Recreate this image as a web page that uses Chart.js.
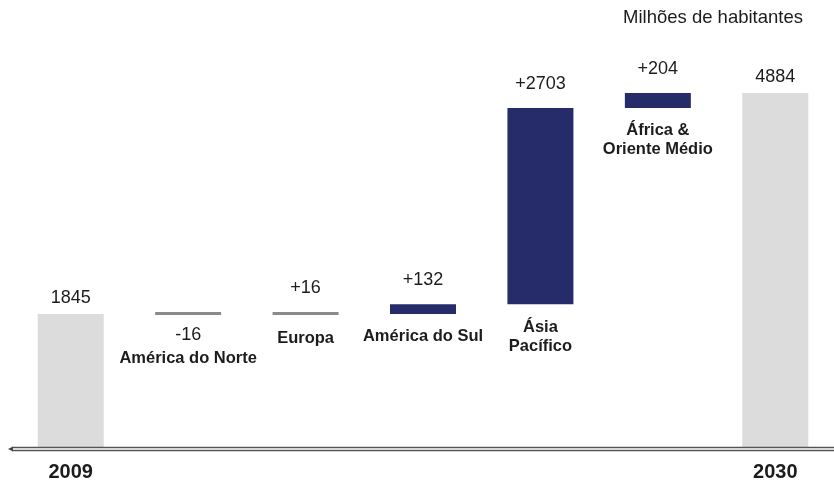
<!DOCTYPE html>
<html>
<head>
<meta charset="utf-8">
<script src="https://cdn.jsdelivr.net/npm/chart.js@4"></script>
<style>
  html, body { margin: 0; padding: 0; background: #fff; }
  #wrap { position: relative; width: 834px; height: 481px; }
</style>
</head>
<body>
<div id="wrap"><canvas id="waterfall"></canvas></div>
<script>
// Population change by region, millions of inhabitants
const categories = ['2009', 'América do Norte', 'Europa', 'América do Sul', 'Ásia Pacífico', 'África & Oriente Médio', '2030'];
const nameLines = [null, ['América do Norte'], ['Europa'], ['América do Sul'], ['Ásia', 'Pacífico'], ['África &', 'Oriente Médio'], null];
const values = [1845, -16, 16, 132, 2703, 204, 4884];
const isTotal = [true, false, false, false, false, false, true];
const valueLabels = ['1845', '-16', '+16', '+132', '+2703', '+204', '4884'];
const unitLabel = 'Milhões de habitantes';

const TOTAL_COLOR = '#dcdcdc';
const UP_COLOR = '#262c6a';
const FLAT_COLOR = '#8a8a8a';

// build floating bars from running total
let running = 0;
const ranges = values.map(function (v, i) {
    if (isTotal[i]) { running = v; return [0, v]; }
    const start = running;
    running += v;
    return [start, running];
});
const colors = values.map(function (v, i) {
    if (isTotal[i]) return TOTAL_COLOR;
    return Math.abs(v) < 50 ? FLAT_COLOR : UP_COLOR;
});

const labelPlugin = {
    id: 'waterfallLabels',
    afterDatasetsDraw: function (chart) {
        const c = chart.ctx;
        const meta = chart.getDatasetMeta(0);
        const area = chart.chartArea;
        c.save();
        c.textAlign = 'center';
        c.textBaseline = 'middle';

        meta.data.forEach(function (bar, i) {
            const top = Math.min(bar.y, bar.base);
            const bottom = Math.max(bar.y, bar.base);
            c.fillStyle = '#1c1c1c';
            c.font = '18px "Liberation Sans", Arial, sans-serif';
            let nameY = bottom + 23;
            if (values[i] < 0) {
                // negative change: value under the line
                c.fillText(valueLabels[i], bar.x, bottom + 20);
                nameY = bottom + 43;
            } else {
                c.fillText(valueLabels[i], bar.x, top - (isTotal[i] ? 16 : 24));
            }
            if (nameLines[i]) {
                c.font = 'bold 16.5px "Liberation Sans", Arial, sans-serif';
                nameLines[i].forEach(function (line, k) {
                    c.fillText(line, bar.x, nameY + k * 19);
                });
            } else {
                c.font = 'bold 20px "Liberation Sans", Arial, sans-serif';
                c.fillText(categories[i], bar.x, area.bottom + 24);
            }
        });

        // double baseline
        const y = area.bottom + 1;
        c.lineWidth = 1.3;
        c.strokeStyle = '#555';
        c.beginPath();
        c.moveTo(12, y - 1.5); c.lineTo(834, y - 1.5);
        c.moveTo(12, y + 1.5); c.lineTo(834, y + 1.5);
        c.stroke();
        c.strokeStyle = '#d8d8d8';
        c.beginPath();
        c.moveTo(12, y); c.lineTo(834, y);
        c.stroke();
        c.fillStyle = '#444';
        c.beginPath();
        c.moveTo(8, y); c.lineTo(13, y - 2.5); c.lineTo(13, y + 2.5);
        c.closePath();
        c.fill();

        // unit note
        c.fillStyle = '#1c1c1c';
        c.font = '18.5px "Liberation Sans", Arial, sans-serif';
        c.fillText(unitLabel, 713, 18);
        c.restore();
    }
};

new Chart(document.getElementById('waterfall'), {
    type: 'bar',
    data: {
        labels: categories,
        datasets: [{
            data: ranges,
            backgroundColor: colors,
            borderWidth: 0,
            borderSkipped: false,
            minBarLength: 3,
            barPercentage: 0.562,
            categoryPercentage: 1
        }]
    },
    options: {
        responsive: true,
        maintainAspectRatio: false,
        animation: false,
        layout: {
            padding: { left: 12, right: 0, top: 12, bottom: 33 }
        },
        scales: {
            x: { display: false },
            y: { display: false, min: 0, max: 6000 }
        },
        plugins: {
            legend: { display: false },
            tooltip: { enabled: false }
        }
    },
    plugins: [labelPlugin]
});
</script>
</body>
</html>
